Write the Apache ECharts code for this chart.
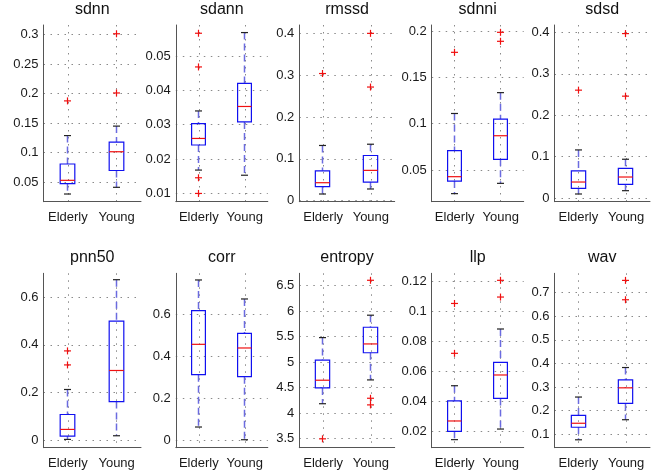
<!DOCTYPE html>
<html>
<head>
<meta charset="utf-8">
<script src="https://cdn.jsdelivr.net/npm/echarts@6/dist/echarts.min.js"></script>
<style>html,body{margin:0;padding:0;background:#fff}#chart{width:656px;height:472px}</style>
</head>
<body>
<div id="chart"></div>
<script>
// ---- data ----
const titles = ['sdnn', 'sdann', 'rmssd', 'sdnni', 'sdsd', 'pnn50', 'corr', 'entropy', 'llp', 'wav'];
const groups = ['Elderly', 'Young'];
// [lower whisker, Q1, median, Q3, upper whisker]
const elderlyStats = [
  [0.0303, 0.0477, 0.0534, 0.081, 0.129],
  [0.0168, 0.0241, 0.026, 0.0303, 0.034],
  [0.016, 0.0335, 0.043, 0.0713, 0.132],
  [0.0245, 0.0381, 0.0428, 0.0709, 0.111],
  [0.0097, 0.0233, 0.0386, 0.0654, 0.1161],
  [0.0028, 0.0168, 0.0448, 0.1075, 0.2126],
  [0.0635, 0.3127, 0.4571, 0.6175, 0.7635],
  [4.183, 4.493, 4.644, 5.04, 5.48],
  [0.0142, 0.0198, 0.0267, 0.0402, 0.0503],
  [0.077, 0.13, 0.147, 0.18, 0.258]
];
const youngStats = [
  [0.0416, 0.070, 0.1017, 0.118, 0.145],
  [0.0153, 0.0308, 0.0353, 0.042, 0.0568],
  [0.028, 0.0446, 0.0725, 0.108, 0.135],
  [0.0356, 0.0615, 0.087, 0.105, 0.1335],
  [0.0177, 0.033, 0.0507, 0.0717, 0.0936],
  [0.0182, 0.162, 0.2925, 0.5, 0.674],
  [0.003, 0.3032, 0.4397, 0.5095, 0.673],
  [4.65, 5.183, 5.356, 5.683, 5.92],
  [0.0213, 0.0418, 0.0575, 0.066, 0.0883],
  [0.162, 0.231, 0.297, 0.331, 0.383]
];
const elderlyOutliers = [
  [0.1876], [0.0566, 0.0468, 0.01456, 0.0100], [0.304], [0.177], [0.2604],
  [0.3748, 0.3159], [], [3.494], [0.1054, 0.072], []
];
const youngOutliers = [
  [0.201, 0.301], [], [0.4, 0.2717], [0.1986, 0.1889], [0.397, 0.2459],
  [], [], [6.605, 4.29, 4.16], [0.1209, 0.1097], [0.752, 0.67]
];
const yMin = [0.0173, 0.0076, -0.0024, 0.0158, -0.0089, -0.032, -0.035, 3.32, 0.0088, 0.0435];
const yMax = [0.3158, 0.059, 0.42, 0.2065, 0.4177, 0.7009, 0.7952, 6.742, 0.1256, 0.782];
const yTicks = [
  [0.05, 0.1, 0.15, 0.2, 0.25, 0.3],
  [0.01, 0.02, 0.03, 0.04, 0.05],
  [0, 0.1, 0.2, 0.3, 0.4],
  [0.05, 0.1, 0.15, 0.2],
  [0, 0.1, 0.2, 0.3, 0.4],
  [0, 0.2, 0.4, 0.6],
  [0, 0.2, 0.4, 0.6],
  [3.5, 4, 4.5, 5, 5.5, 6, 6.5],
  [0.02, 0.04, 0.06, 0.08, 0.1, 0.12],
  [0.1, 0.2, 0.3, 0.4, 0.5, 0.6, 0.7]
];

// ---- layout ----
const colLeft = [43.5, 175.8, 299.3, 431.7, 554.5];
const colWidth = [97.5, 92, 95.4, 92, 95.5];
const rowTop = [25, 273.3];
const rowHeight = [176.7, 174.4];
const titleTop = [2, 250];
const FONT = 'Liberation Sans, Arial, sans-serif';

const chart = echarts.init(document.getElementById('chart'), null, {renderer: 'canvas'});

const grids = [], xAxes = [], yAxes = [], titleArr = [], series = [];

// same half-pixel snapping as the axis split lines
function snap(pos) {
  const d = Math.round(pos * 2);
  return (d + 1) % 2 === 0 ? d / 2 : (d - 1) / 2;
}

function boxRender(params, api) {
  const x = api.value(0);
  const lo = api.value(1), q1 = api.value(2), med = api.value(3), q3 = api.value(4), hi = api.value(5);
  const pLo = api.coord([x, lo]), pQ1 = api.coord([x, q1]), pMed = api.coord([x, med]);
  const pQ3 = api.coord([x, q3]), pHi = api.coord([x, hi]);
  const cx = snap(pLo[0]);
  const hw = api.size([0.3, 0])[0] / 2;
  const cap = 3.5;
  const blue = '#1010f0';
  const wBlue = '#6b6be0';
  return {
    type: 'group',
    children: [
      {type: 'line', shape: {x1: cx, y1: pHi[1], x2: cx, y2: pQ3[1]}, style: {stroke: wBlue, lineWidth: 1.5, lineDash: [7, 4]}},
      {type: 'line', shape: {x1: cx, y1: pQ1[1], x2: cx, y2: pLo[1]}, style: {stroke: wBlue, lineWidth: 1.5, lineDash: [7, 4]}},
      {type: 'line', shape: {x1: cx - cap, y1: pHi[1], x2: cx + cap, y2: pHi[1]}, style: {stroke: '#222', lineWidth: 1.2}},
      {type: 'line', shape: {x1: cx - cap, y1: pLo[1], x2: cx + cap, y2: pLo[1]}, style: {stroke: '#222', lineWidth: 1.2}},
      {type: 'rect', shape: {x: cx - hw, y: pQ3[1], width: 2 * hw, height: pQ1[1] - pQ3[1]}, style: {stroke: blue, fill: null, lineWidth: 1.2}},
      {type: 'line', shape: {x1: cx - hw, y1: pMed[1], x2: cx + hw, y2: pMed[1]}, style: {stroke: '#f01010', lineWidth: 1.2}}
    ]
  };
}

function outlierRender(params, api) {
  const c = api.coord([api.value(0), api.value(1)]);
  const cx = snap(c[0]);
  const s = 3.5;
  return {
    type: 'group',
    children: [
      {type: 'line', shape: {x1: cx - s, y1: c[1], x2: cx + s, y2: c[1]}, style: {stroke: '#f01010', lineWidth: 1.2}},
      {type: 'line', shape: {x1: cx, y1: c[1] - s, x2: cx, y2: c[1] + s}, style: {stroke: '#f01010', lineWidth: 1.2}}
    ]
  };
}

const gridLine = {show: true, lineStyle: {color: '#8a8a8a', width: 1, type: [1.5, 5.5]}};

for (let i = 0; i < titles.length; i++) {
  const r = Math.floor(i / 5), c = i % 5;
  grids.push({left: colLeft[c], top: rowTop[r], width: colWidth[c], height: rowHeight[r], containLabel: false});
  titleArr.push({
    text: titles[i], left: colLeft[c] + colWidth[c] / 2, top: titleTop[r], textAlign: 'center', padding: 0,
    textStyle: {fontFamily: FONT, fontSize: 16, fontWeight: 'normal', color: '#111'}
  });
  xAxes.push({
    type: 'value', gridIndex: i, min: 0.5, max: 2.5,
    axisLine: {show: true, onZero: false, lineStyle: {color: '#555', width: 1}},
    axisTick: {show: false, customValues: [1, 2]},
    axisLabel: {customValues: [1, 2], formatter: v => groups[Math.round(v) - 1], margin: 9,
      fontFamily: FONT, fontSize: 13, color: '#1a1a1a'},
    splitLine: gridLine
  });
  yAxes.push({
    type: 'value', gridIndex: i, min: yMin[i], max: yMax[i],
    axisLine: {show: true, onZero: false, lineStyle: {color: '#555', width: 1}},
    axisTick: {show: false, customValues: yTicks[i]},
    axisLabel: {customValues: yTicks[i], formatter: v => String(+(+v).toFixed(4)), margin: 5,
      fontFamily: FONT, fontSize: 13, color: '#1a1a1a'},
    splitLine: gridLine
  });
  series.push({
    type: 'custom', xAxisIndex: i, yAxisIndex: i, renderItem: boxRender, clip: false,
    encode: {x: 0, y: [1, 2, 3, 4, 5]},
    data: [[1].concat(elderlyStats[i]), [2].concat(youngStats[i])],
    silent: true
  });
  series.push({
    type: 'custom', xAxisIndex: i, yAxisIndex: i, renderItem: outlierRender, clip: false,
    encode: {x: 0, y: 1},
    data: elderlyOutliers[i].map(v => [1, v]).concat(youngOutliers[i].map(v => [2, v])),
    silent: true
  });
}

chart.setOption({
  backgroundColor: '#ffffff',
  animation: false,
  title: titleArr,
  grid: grids,
  xAxis: xAxes,
  yAxis: yAxes,
  series: series
});
</script>
</body>
</html>
